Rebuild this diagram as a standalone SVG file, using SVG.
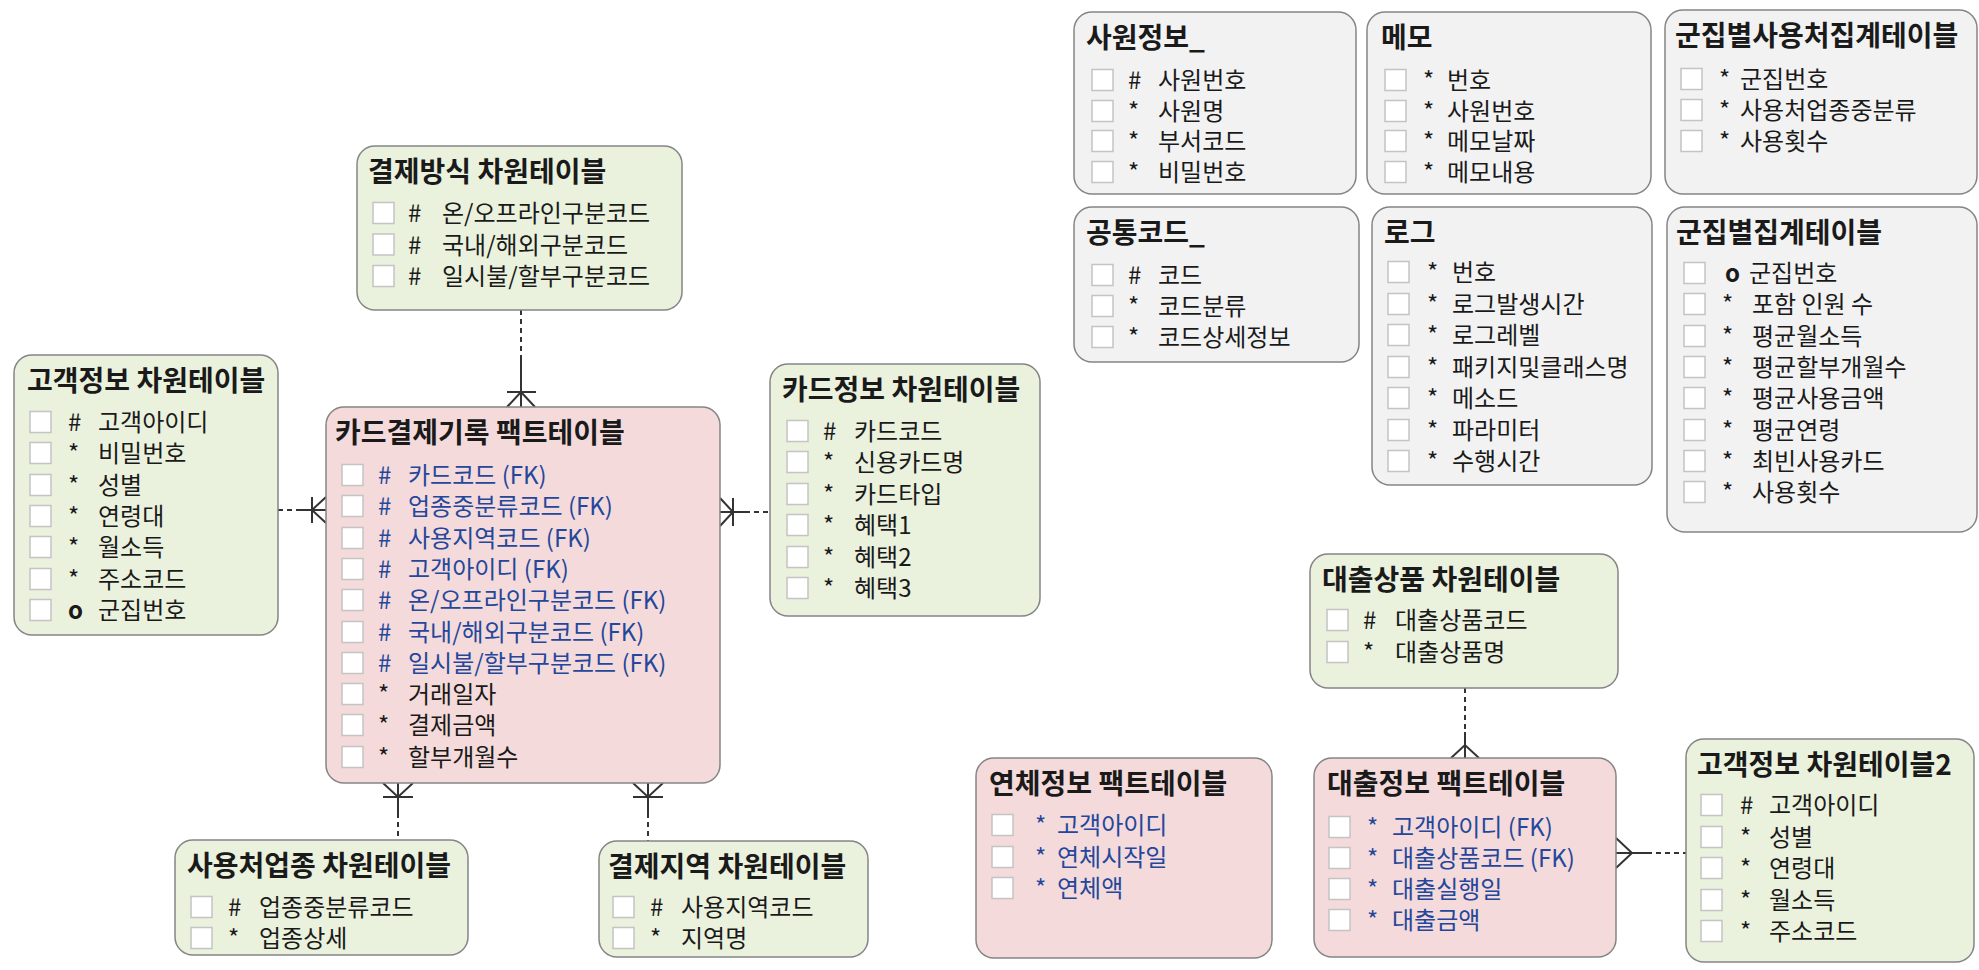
<svg xmlns="http://www.w3.org/2000/svg" width="1979" height="970" viewBox="0 0 1979 970">
<style>
.bx{stroke:#858585;stroke-width:1.5}
.g{fill:#EAF1DD}.p{fill:#F4DADA}.w{fill:#F2F2F2}
text{font-family:"Noto Sans CJK KR","Malgun Gothic",sans-serif;fill:#1a1a1a}
.t{font-size:28px;font-weight:bold}
.r{font-size:24px}
.fk{fill:#24479B}
.cb{fill:#ffffff;stroke:#c4c4c4;stroke-width:1.5}
.ln{stroke:#333;stroke-width:2;fill:none}
.ds{stroke:#333;stroke-width:2;fill:none;stroke-dasharray:5 4}
</style>
<rect width="1979" height="970" fill="#ffffff"/>

<g id="conn">
<path class="ds" d="M521 310V358"/><path class="ln" d="M521 358V407M507 392H536M507 407L521 392L535 407"/>
<path class="ds" d="M278 510H300"/><path class="ln" d="M300 510H326M312 497V523M326 497L312 510L326 523"/>
<path class="ds" d="M745 512H770"/><path class="ln" d="M720 512H745M733 498V526M720 498L733 512L720 526"/>
<path class="ds" d="M398 813V840"/><path class="ln" d="M398 783V813M383 797H413M383 783L398 797L413 783"/>
<path class="ds" d="M648 813V841"/><path class="ln" d="M648 783V813M633 797H663M633 783L648 797L663 783"/>
<path class="ds" d="M1465 688V732"/><path class="ln" d="M1465 732V758M1451 758L1465 745L1479 758"/>
<path class="ds" d="M1647 853H1686"/><path class="ln" d="M1616 853H1647M1616 838L1632 853L1616 868"/>
</g>

<g id="n_payment_method">
<rect class="bx g" x="357" y="146" width="325" height="164" rx="18"/>
<text class="t" x="368" y="182">결제방식 차원테이블</text>
<rect class="cb" x="373" y="202.5" width="21" height="21"/><text class="r" y="222"><tspan x="408">#</tspan><tspan x="442">온/오프라인구분코드</tspan></text>
<rect class="cb" x="373" y="234" width="21" height="21"/><text class="r" y="253.5"><tspan x="408">#</tspan><tspan x="442">국내/해외구분코드</tspan></text>
<rect class="cb" x="373" y="265.5" width="21" height="21"/><text class="r" y="285"><tspan x="408">#</tspan><tspan x="442">일시불/할부구분코드</tspan></text>
</g>

<g id="n_customer">
<rect class="bx g" x="14" y="355" width="264" height="280" rx="18"/>
<text class="t" x="27" y="391">고객정보 차원테이블</text>
<rect class="cb" x="30" y="411.5" width="21" height="21"/><text class="r" y="431"><tspan x="68">#</tspan><tspan x="98">고객아이디</tspan></text>
<rect class="cb" x="30" y="442.5" width="21" height="21"/><text class="r" y="462"><tspan x="68">*</tspan><tspan x="98">비밀번호</tspan></text>
<rect class="cb" x="30" y="474.5" width="21" height="21"/><text class="r" y="494"><tspan x="68">*</tspan><tspan x="98">성별</tspan></text>
<rect class="cb" x="30" y="505.5" width="21" height="21"/><text class="r" y="525"><tspan x="68">*</tspan><tspan x="98">연령대</tspan></text>
<rect class="cb" x="30" y="536.5" width="21" height="21"/><text class="r" y="556"><tspan x="68">*</tspan><tspan x="98">월소득</tspan></text>
<rect class="cb" x="30" y="568.5" width="21" height="21"/><text class="r" y="588"><tspan x="68">*</tspan><tspan x="98">주소코드</tspan></text>
<rect class="cb" x="30" y="599.5" width="21" height="21"/><text class="r" y="619"><tspan x="68" font-weight="bold">o</tspan><tspan x="98">군집번호</tspan></text>
</g>

<g id="n_card_fact">
<rect class="bx p" x="326" y="407" width="394" height="376" rx="18"/>
<text class="t" x="335" y="443">카드결제기록 팩트테이블</text>
<rect class="cb" x="342" y="464.5" width="21" height="21"/><text class="r fk" y="484"><tspan x="378">#</tspan><tspan x="408">카드코드 (FK)</tspan></text>
<rect class="cb" x="342" y="495.5" width="21" height="21"/><text class="r fk" y="515"><tspan x="378">#</tspan><tspan x="408">업종중분류코드 (FK)</tspan></text>
<rect class="cb" x="342" y="527.5" width="21" height="21"/><text class="r fk" y="547"><tspan x="378">#</tspan><tspan x="408">사용지역코드 (FK)</tspan></text>
<rect class="cb" x="342" y="558.5" width="21" height="21"/><text class="r fk" y="578"><tspan x="378">#</tspan><tspan x="408">고객아이디 (FK)</tspan></text>
<rect class="cb" x="342" y="589.5" width="21" height="21"/><text class="r fk" y="609"><tspan x="378">#</tspan><tspan x="408">온/오프라인구분코드 (FK)</tspan></text>
<rect class="cb" x="342" y="621.5" width="21" height="21"/><text class="r fk" y="641"><tspan x="378">#</tspan><tspan x="408">국내/해외구분코드 (FK)</tspan></text>
<rect class="cb" x="342" y="652.5" width="21" height="21"/><text class="r fk" y="672"><tspan x="378">#</tspan><tspan x="408">일시불/할부구분코드 (FK)</tspan></text>
<rect class="cb" x="342" y="683.5" width="21" height="21"/><text class="r" y="703"><tspan x="378">*</tspan><tspan x="408">거래일자</tspan></text>
<rect class="cb" x="342" y="714.5" width="21" height="21"/><text class="r" y="734"><tspan x="378">*</tspan><tspan x="408">결제금액</tspan></text>
<rect class="cb" x="342" y="746.5" width="21" height="21"/><text class="r" y="766"><tspan x="378">*</tspan><tspan x="408">할부개월수</tspan></text>
</g>

<g id="n_card">
<rect class="bx g" x="770" y="364" width="270" height="252" rx="18"/>
<text class="t" x="782" y="400">카드정보 차원테이블</text>
<rect class="cb" x="787" y="420.5" width="21" height="21"/><text class="r" y="440"><tspan x="823">#</tspan><tspan x="854">카드코드</tspan></text>
<rect class="cb" x="787" y="451.5" width="21" height="21"/><text class="r" y="471"><tspan x="823">*</tspan><tspan x="854">신용카드명</tspan></text>
<rect class="cb" x="787" y="483.5" width="21" height="21"/><text class="r" y="503"><tspan x="823">*</tspan><tspan x="854">카드타입</tspan></text>
<rect class="cb" x="787" y="514.5" width="21" height="21"/><text class="r" y="534"><tspan x="823">*</tspan><tspan x="854">혜택1</tspan></text>
<rect class="cb" x="787" y="546.5" width="21" height="21"/><text class="r" y="566"><tspan x="823">*</tspan><tspan x="854">혜택2</tspan></text>
<rect class="cb" x="787" y="577.5" width="21" height="21"/><text class="r" y="597"><tspan x="823">*</tspan><tspan x="854">혜택3</tspan></text>
</g>

<g id="n_industry">
<rect class="bx g" x="175" y="840" width="293" height="115" rx="18"/>
<text class="t" x="187" y="876">사용처업종 차원테이블</text>
<rect class="cb" x="191" y="896.5" width="21" height="21"/><text class="r" y="916"><tspan x="228">#</tspan><tspan x="259">업종중분류코드</tspan></text>
<rect class="cb" x="191" y="927.5" width="21" height="21"/><text class="r" y="947"><tspan x="228">*</tspan><tspan x="259">업종상세</tspan></text>
</g>

<g id="n_region">
<rect class="bx g" x="599" y="841" width="269" height="116" rx="18"/>
<text class="t" x="608" y="877">결제지역 차원테이블</text>
<rect class="cb" x="613" y="896.5" width="21" height="21"/><text class="r" y="916"><tspan x="650">#</tspan><tspan x="681">사용지역코드</tspan></text>
<rect class="cb" x="613" y="927.5" width="21" height="21"/><text class="r" y="947"><tspan x="650">*</tspan><tspan x="681">지역명</tspan></text>
</g>

<g id="n_employee">
<rect class="bx w" x="1074" y="12" width="282" height="182" rx="18"/>
<text class="t" x="1086" y="48">사원정보_</text>
<rect class="cb" x="1092" y="69.5" width="21" height="21"/><text class="r" y="89"><tspan x="1128">#</tspan><tspan x="1158">사원번호</tspan></text>
<rect class="cb" x="1092" y="100.5" width="21" height="21"/><text class="r" y="120"><tspan x="1128">*</tspan><tspan x="1158">사원명</tspan></text>
<rect class="cb" x="1092" y="130.5" width="21" height="21"/><text class="r" y="150"><tspan x="1128">*</tspan><tspan x="1158">부서코드</tspan></text>
<rect class="cb" x="1092" y="161.5" width="21" height="21"/><text class="r" y="181"><tspan x="1128">*</tspan><tspan x="1158">비밀번호</tspan></text>
</g>

<g id="n_memo">
<rect class="bx w" x="1367" y="12" width="284" height="182" rx="18"/>
<text class="t" x="1381" y="48">메모</text>
<rect class="cb" x="1385" y="69.5" width="21" height="21"/><text class="r" y="89"><tspan x="1423">*</tspan><tspan x="1447">번호</tspan></text>
<rect class="cb" x="1385" y="100.5" width="21" height="21"/><text class="r" y="120"><tspan x="1423">*</tspan><tspan x="1447">사원번호</tspan></text>
<rect class="cb" x="1385" y="130.5" width="21" height="21"/><text class="r" y="150"><tspan x="1423">*</tspan><tspan x="1447">메모날짜</tspan></text>
<rect class="cb" x="1385" y="161.5" width="21" height="21"/><text class="r" y="181"><tspan x="1423">*</tspan><tspan x="1447">메모내용</tspan></text>
</g>

<g id="n_cluster_usage">
<rect class="bx w" x="1665" y="10" width="312" height="184" rx="18"/>
<text class="t" x="1675" y="46">군집별사용처집계테이블</text>
<rect class="cb" x="1681" y="68.5" width="21" height="21"/><text class="r" y="88"><tspan x="1719">*</tspan><tspan x="1740">군집번호</tspan></text>
<rect class="cb" x="1681" y="99.5" width="21" height="21"/><text class="r" y="119"><tspan x="1719">*</tspan><tspan x="1740">사용처업종중분류</tspan></text>
<rect class="cb" x="1681" y="130.5" width="21" height="21"/><text class="r" y="150"><tspan x="1719">*</tspan><tspan x="1740">사용횟수</tspan></text>
</g>

<g id="n_common_code">
<rect class="bx w" x="1074" y="207" width="285" height="155" rx="18"/>
<text class="t" x="1086" y="243">공통코드_</text>
<rect class="cb" x="1092" y="264.5" width="21" height="21"/><text class="r" y="284"><tspan x="1128">#</tspan><tspan x="1158">코드</tspan></text>
<rect class="cb" x="1092" y="295.5" width="21" height="21"/><text class="r" y="315"><tspan x="1128">*</tspan><tspan x="1158">코드분류</tspan></text>
<rect class="cb" x="1092" y="326.5" width="21" height="21"/><text class="r" y="346"><tspan x="1128">*</tspan><tspan x="1158">코드상세정보</tspan></text>
</g>

<g id="n_log">
<rect class="bx w" x="1372" y="207" width="280" height="278" rx="18"/>
<text class="t" x="1384" y="243">로그</text>
<rect class="cb" x="1388" y="261.5" width="21" height="21"/><text class="r" y="281"><tspan x="1427">*</tspan><tspan x="1452">번호</tspan></text>
<rect class="cb" x="1388" y="293.5" width="21" height="21"/><text class="r" y="313"><tspan x="1427">*</tspan><tspan x="1452">로그발생시간</tspan></text>
<rect class="cb" x="1388" y="324.5" width="21" height="21"/><text class="r" y="344"><tspan x="1427">*</tspan><tspan x="1452">로그레벨</tspan></text>
<rect class="cb" x="1388" y="356.5" width="21" height="21"/><text class="r" y="376"><tspan x="1427">*</tspan><tspan x="1452">패키지및클래스명</tspan></text>
<rect class="cb" x="1388" y="387.5" width="21" height="21"/><text class="r" y="407"><tspan x="1427">*</tspan><tspan x="1452">메소드</tspan></text>
<rect class="cb" x="1388" y="419.5" width="21" height="21"/><text class="r" y="439"><tspan x="1427">*</tspan><tspan x="1452">파라미터</tspan></text>
<rect class="cb" x="1388" y="450.5" width="21" height="21"/><text class="r" y="470"><tspan x="1427">*</tspan><tspan x="1452">수행시간</tspan></text>
</g>

<g id="n_cluster_stats">
<rect class="bx w" x="1667" y="207" width="310" height="325" rx="18"/>
<text class="t" x="1676" y="243">군집별집계테이블</text>
<rect class="cb" x="1684" y="262.5" width="21" height="21"/><text class="r" y="282"><tspan x="1725" font-weight="bold">o</tspan><tspan x="1749">군집번호</tspan></text>
<rect class="cb" x="1684" y="293.5" width="21" height="21"/><text class="r" y="313"><tspan x="1722">*</tspan><tspan x="1752">포함 인원 수</tspan></text>
<rect class="cb" x="1684" y="325.5" width="21" height="21"/><text class="r" y="345"><tspan x="1722">*</tspan><tspan x="1752">평균월소득</tspan></text>
<rect class="cb" x="1684" y="356.5" width="21" height="21"/><text class="r" y="376"><tspan x="1722">*</tspan><tspan x="1752">평균할부개월수</tspan></text>
<rect class="cb" x="1684" y="387.5" width="21" height="21"/><text class="r" y="407"><tspan x="1722">*</tspan><tspan x="1752">평균사용금액</tspan></text>
<rect class="cb" x="1684" y="419.5" width="21" height="21"/><text class="r" y="439"><tspan x="1722">*</tspan><tspan x="1752">평균연령</tspan></text>
<rect class="cb" x="1684" y="450.5" width="21" height="21"/><text class="r" y="470"><tspan x="1722">*</tspan><tspan x="1752">최빈사용카드</tspan></text>
<rect class="cb" x="1684" y="481.5" width="21" height="21"/><text class="r" y="501"><tspan x="1722">*</tspan><tspan x="1752">사용횟수</tspan></text>
</g>

<g id="n_loan_product">
<rect class="bx g" x="1310" y="554" width="308" height="134" rx="18"/>
<text class="t" x="1322" y="590">대출상품 차원테이블</text>
<rect class="cb" x="1327" y="609.5" width="21" height="21"/><text class="r" y="629"><tspan x="1363">#</tspan><tspan x="1395">대출상품코드</tspan></text>
<rect class="cb" x="1327" y="641.5" width="21" height="21"/><text class="r" y="661"><tspan x="1363">*</tspan><tspan x="1395">대출상품명</tspan></text>
</g>

<g id="n_overdue_fact">
<rect class="bx p" x="976" y="758" width="296" height="200" rx="18"/>
<text class="t" x="989" y="794">연체정보 팩트테이블</text>
<rect class="cb" x="992" y="814.5" width="21" height="21"/><text class="r fk" y="834"><tspan x="1035">*</tspan><tspan x="1057">고객아이디</tspan></text>
<rect class="cb" x="992" y="846.5" width="21" height="21"/><text class="r fk" y="866"><tspan x="1035">*</tspan><tspan x="1057">연체시작일</tspan></text>
<rect class="cb" x="992" y="877.5" width="21" height="21"/><text class="r fk" y="897"><tspan x="1035">*</tspan><tspan x="1057">연체액</tspan></text>
</g>

<g id="n_loan_fact">
<rect class="bx p" x="1314" y="758" width="302" height="199" rx="18"/>
<text class="t" x="1327" y="794">대출정보 팩트테이블</text>
<rect class="cb" x="1329" y="816.5" width="21" height="21"/><text class="r fk" y="836"><tspan x="1367">*</tspan><tspan x="1392">고객아이디 (FK)</tspan></text>
<rect class="cb" x="1329" y="847.5" width="21" height="21"/><text class="r fk" y="867"><tspan x="1367">*</tspan><tspan x="1392">대출상품코드 (FK)</tspan></text>
<rect class="cb" x="1329" y="878.5" width="21" height="21"/><text class="r fk" y="898"><tspan x="1367">*</tspan><tspan x="1392">대출실행일</tspan></text>
<rect class="cb" x="1329" y="909.5" width="21" height="21"/><text class="r fk" y="929"><tspan x="1367">*</tspan><tspan x="1392">대출금액</tspan></text>
</g>

<g id="n_customer2">
<rect class="bx g" x="1686" y="739" width="288" height="223" rx="18"/>
<text class="t" x="1697" y="775">고객정보 차원테이블2</text>
<rect class="cb" x="1701" y="794.5" width="21" height="21"/><text class="r" y="814"><tspan x="1740">#</tspan><tspan x="1769">고객아이디</tspan></text>
<rect class="cb" x="1701" y="826.5" width="21" height="21"/><text class="r" y="846"><tspan x="1740">*</tspan><tspan x="1769">성별</tspan></text>
<rect class="cb" x="1701" y="857.5" width="21" height="21"/><text class="r" y="877"><tspan x="1740">*</tspan><tspan x="1769">연령대</tspan></text>
<rect class="cb" x="1701" y="889.5" width="21" height="21"/><text class="r" y="909"><tspan x="1740">*</tspan><tspan x="1769">월소득</tspan></text>
<rect class="cb" x="1701" y="920.5" width="21" height="21"/><text class="r" y="940"><tspan x="1740">*</tspan><tspan x="1769">주소코드</tspan></text>
</g>
</svg>
